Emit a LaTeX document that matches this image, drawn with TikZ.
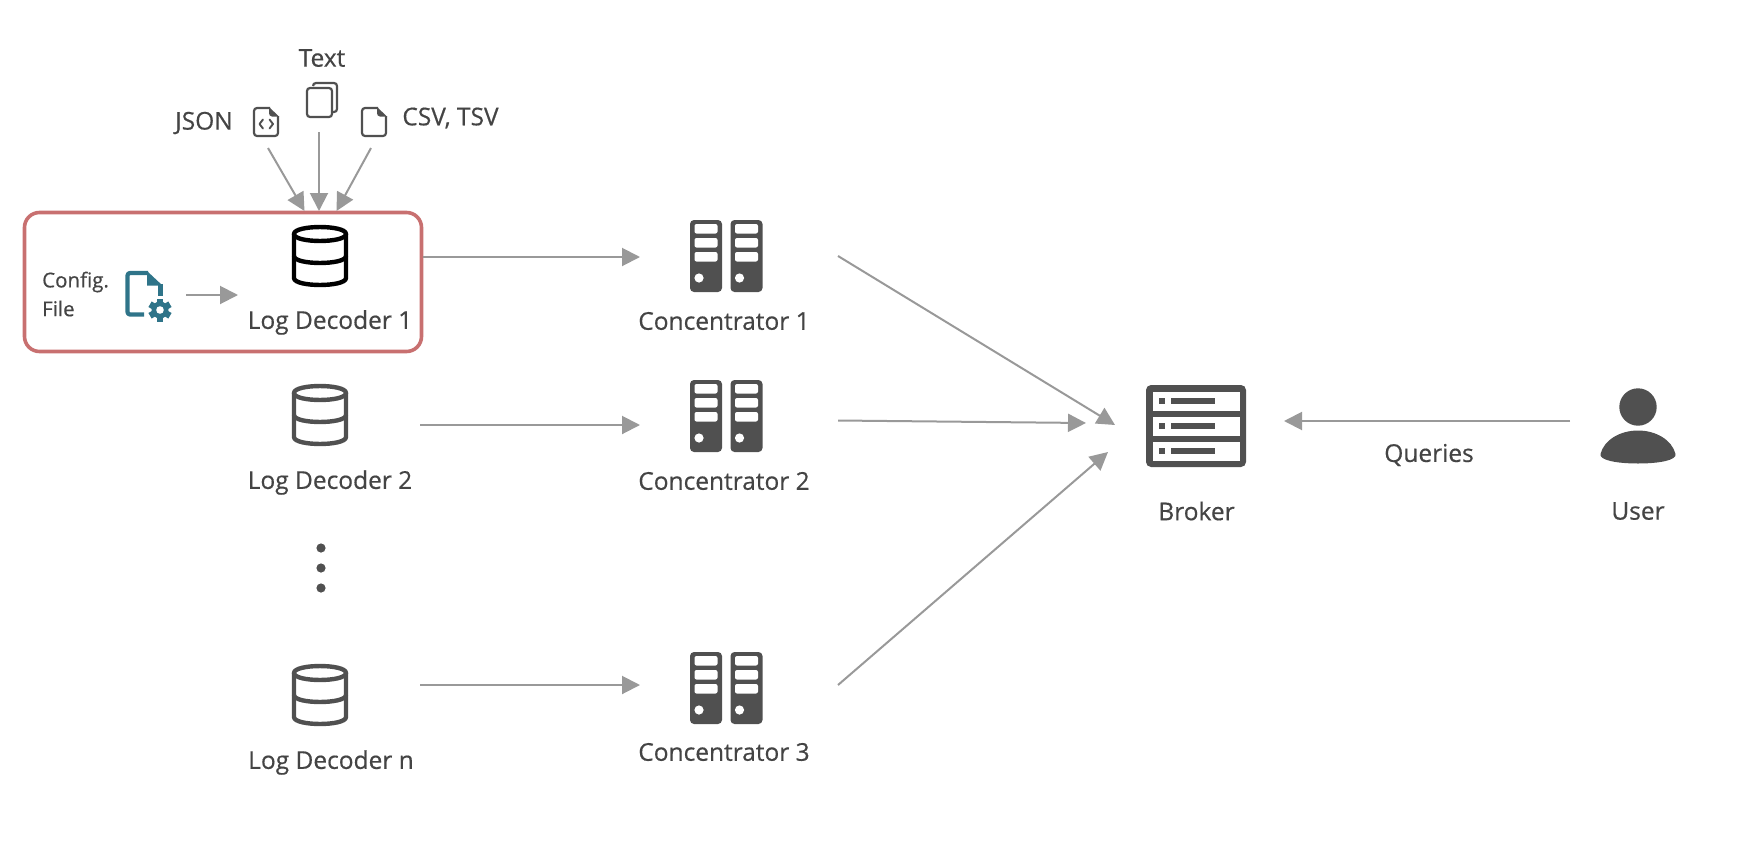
\documentclass[tikz,border=0pt]{standalone}
\usepackage{fontspec}
\setmainfont{Open Sans}
\newfontfamily\lblfont{Open Sans}[FakeBold=0.5]
\usetikzlibrary{arrows.meta}
\definecolor{ink}{HTML}{444444}
\definecolor{icon}{HTML}{505050}
\definecolor{wire}{HTML}{999999}
\definecolor{teal}{HTML}{2F7489}
\definecolor{redbox}{HTML}{C87070}
\tikzset{
  lbl/.style={text=ink,font=\lblfont\fontsize{24.5}{26}\selectfont,inner sep=0pt,anchor=center},
  small/.style={text=ink,font=\lblfont\fontsize{20.5}{24}\selectfont,inner sep=0pt,anchor=west},
  wirearrow/.style={draw=wire,line width=2pt,-{Triangle[length=18pt,width=18pt]}},
  hub/.style={inner sep=0pt,minimum size=0pt}
}
\newcommand{\cylicon}[4]{% name, x, top y, colour
  \begin{scope}[shift={(#2,#3)},draw=#4,line width=4.4pt,line join=round]
    \node[hub] (#1) at (0,31) {};
    \draw (-26,9) .. controls (-26,-0.3) and (26,-0.3) .. (26,9)
          .. controls (26,18.3) and (-26,18.3) .. (-26,9) -- cycle;
    \draw (-26,9) -- (-26,53) .. controls (-26,62.3) and (26,62.3) .. (26,53) -- (26,9);
    \draw (-26,31) .. controls (-26,40.3) and (26,40.3) .. (26,31);
  \end{scope}}
\newcommand{\towericon}[3]{% name, x, top y
  \begin{scope}[shift={(#2,#3)}]
    \node[hub] (#1) at (36,36) {};
    \foreach \dx in {0,40.5}{
      \fill[icon,rounded corners=4pt] (\dx,0) rectangle ++(32,72);
      \foreach \dy in {4,18,32}
        \fill[white,rounded corners=2pt] (\dx+4.5,\dy) rectangle ++(23,9.5);
      \fill[white] (\dx+9,58) circle[radius=4.6pt];
    }
  \end{scope}}
\newcommand{\docicon}[3]{% name, x, y
  \begin{scope}[shift={(#2,#3)}]
    \node[hub] (#1) at (13,15) {};
    \draw[icon,line width=2.2pt,line join=round,rounded corners=3pt]
      (17,1) -- (1,1) -- (1,29) -- (25,29) -- (25,9);
    \fill[icon] (16,0) -- (26,9.5) -- (19,9.5) .. controls (17,9.5) and (16,8) .. (16,6) -- cycle;
  \end{scope}}
\begin{document}
\begin{tikzpicture}[x=1pt,y=-1pt]
\useasboundingbox (0,0) rectangle (1740,846);
% highlight
\node[hub] (hl) at (223,282) {};
\draw[redbox,line width=3.6pt,rounded corners=15pt] (24.5,212.5) rectangle (421.5,351.5);
% log decoders
\cylicon{ldone}{320}{225}{black}
\cylicon{ldtwo}{320}{384}{icon}
\cylicon{ldn}{320}{664}{icon}
\node[lbl] (ldonel) at (330,322.5) {Log Decoder 1};
\node[lbl] (ldtwol) at (330,482.5) {Log Decoder 2};
\node[lbl] (ldnl) at (331,762.5) {Log Decoder n};
\foreach \n/\yy in {a/548,b/568,c/588}
  \fill[icon] (321,\yy) circle[radius=4.6pt];
% inputs
\docicon{jsonicon}{253}{107}
\draw[icon,line width=1.9pt,line cap=round,line join=round]
  (263,119.5) -- (259.5,124) -- (263,128.5) (269.5,119.5) -- (273,124) -- (269.5,128.5);
\docicon{csvicon}{361}{107}
\begin{scope}[draw=icon,line width=2.2pt,rounded corners=3pt]
  \draw[icon] (313,86) -- (313,83) -- (337,83) -- (337,112) -- (332.5,112);
  \draw[icon] (307,88) rectangle (332,117);
\end{scope}
\node[lbl] (jsonl) at (204,123) {JSON};
\node[lbl] (textl) at (322,58) {Text};
\node[lbl] (csvl) at (450.5,118) {CSV, TSV};
\coordinate (jsonend) at (268,148);
\coordinate (textend) at (319,132);
\coordinate (csvend) at (371,148);
\coordinate (jsontip) at (304.5,211);
\coordinate (texttip) at (319,211);
\coordinate (csvtip) at (336.5,211);
\draw[wirearrow] (jsonend) -- (jsontip);
\draw[wirearrow] (textend) -- (texttip);
\draw[wirearrow] (csvend) -- (csvtip);
% config
\node[small] (cfgl) at (42,282) {Config.};
\node[small] (filel) at (42,308.5) {File};
\begin{scope}[teal]
  \draw[teal,line width=4.2pt,line join=round,rounded corners=2.5pt]
    (144,314.5) -- (127.5,314.5) -- (127.5,273) -- (148,273);
  \draw[teal,line width=4.2pt] (160.5,284) -- (160.5,296);
  \fill[teal] (147,271) -- (162.5,285.5) -- (147,285.5) -- cycle;
  \fill[teal] (160,310) circle[radius=8.5pt];
  \foreach \a in {0,60,...,300}
    \fill[teal,rotate around={\a:(160,310)}] (156.8,298.5) rectangle (163.2,304);
  \fill[white] (160,310) circle[radius=3.8pt];
\end{scope}
\node[hub] (cfgicon) at (145,294) {};
\coordinate (cfgend) at (186,295);
\coordinate (cfgtip) at (238,295);
\draw[wirearrow] (cfgend) -- (cfgtip);
% concentrators
\towericon{cone}{690}{220}
\towericon{ctwo}{690}{380}
\towericon{cthree}{690}{652}
\node[lbl] (conel) at (724,321) {Concentrator 1};
\node[lbl] (ctwol) at (724,481) {Concentrator 2};
\node[lbl] (cthreel) at (724,752) {Concentrator 3};
\coordinate (a1) at (423,257); \coordinate (b1) at (640,257);
\coordinate (a2) at (420,425); \coordinate (b2) at (640,425);
\coordinate (a3) at (420,685); \coordinate (b3) at (640,685);
\draw[wirearrow] (a1) -- (b1);
\draw[wirearrow] (a2) -- (b2);
\draw[wirearrow] (a3) -- (b3);
\coordinate (c1) at (838,256); \coordinate (d1) at (1115,425);
\coordinate (c2) at (838,420.5); \coordinate (d2) at (1086,423);
\coordinate (c3) at (838,685); \coordinate (d3) at (1108,452);
\draw[wirearrow] (c1) -- (d1);
\draw[wirearrow] (c2) -- (d2);
\draw[wirearrow] (c3) -- (d3);
% broker
\node[hub] (broker) at (1196,426) {};
\fill[icon,rounded corners=5pt] (1146,385) rectangle (1246,467);
\foreach \yy in {392,417,442}{
  \fill[white] (1153,\yy) rectangle (1240,\yy+18.5);
  \fill[icon] (1159,\yy+6) rectangle (1165,\yy+12);
  \fill[icon] (1171,\yy+6) rectangle (1215,\yy+12);
}
\node[lbl] (brokerl) at (1196.5,511) {Broker};
% user
\node[hub] (usr) at (1638,430) {};
\fill[icon] (1638,407) circle[radius=18.7pt];
\fill[icon] (1600.5,454) .. controls (1604,440) and (1620,430.5) .. (1638,430.5)
  .. controls (1656,430.5) and (1672,440) .. (1675.5,454)
  .. controls (1677,460) and (1660,463.5) .. (1638,463.5)
  .. controls (1616,463.5) and (1599,460) .. (1600.5,454) -- cycle;
\node[lbl] (userl) at (1638,511) {User};
\coordinate (uend) at (1570,421);
\coordinate (utip) at (1284,421);
\draw[wirearrow] (uend) -- (utip);
\node[lbl] (queries) at (1429,455) {Queries};
\end{tikzpicture}
\end{document}
